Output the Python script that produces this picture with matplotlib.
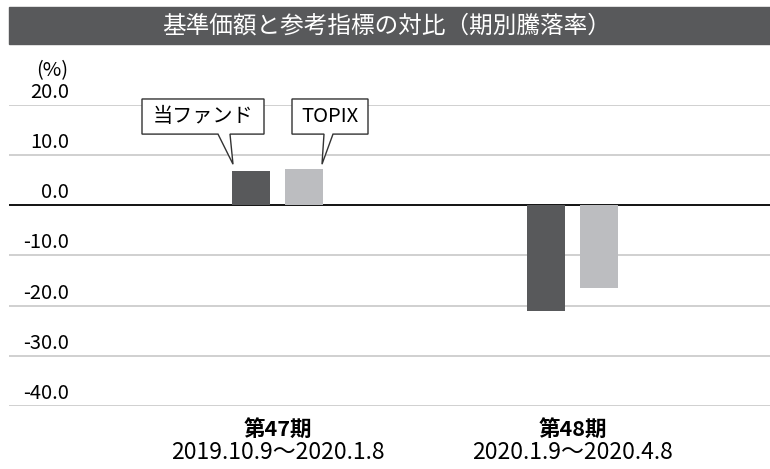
import matplotlib

matplotlib.use("Agg")

import matplotlib.pyplot as plt
from matplotlib.patches import Polygon, Rectangle
import numpy as np

plt.rcParams["font.family"] = ["Noto Sans CJK JP", "DejaVu Sans"]

DARK = "#58595b"
LIGHT = "#bcbdc0"
GRID = "#c8c8c8"

periods = ["第47期", "第48期"]
ranges = ["2019.10.9～2020.1.8", "2020.1.9～2020.4.8"]
fund = [6.8, -21.1]
topix = [7.2, -16.5]
yticks = [20, 10, 0, -10, -20, -30, -40]

W, H = 770, 469
fig = plt.figure(figsize=(W / 100, H / 100), dpi=100)

# title bar
fig.patches.append(Rectangle((9 / W, 1 - 44 / H), 1 - 9 / W, 37 / H,
                             transform=fig.transFigure, color=DARK, zorder=0))
fig.text(387 / W, 1 - 26 / H, "基準価額と参考指標の対比（期別騰落率）",
         ha="center", va="center", color="white", fontsize=17)

ax = fig.add_axes([9 / W, 1 - 406 / H, 1 - 9 / W, 301 / H])
ax.set_ylim(-40, 20)
unit = 295.0  # px per category
ax.set_xlim(-(277.5 - 9) / unit, 1 + (770 - 572.5) / unit)
for s in ax.spines.values():
    s.set_visible(False)
ax.set_xticks([])
ax.set_yticks([])

lab_x = (69 - 9) / 761
for v in yticks:
    ax.axhline(v, color="black" if v == 0 else GRID, lw=1.3 if v == 0 else 1.2, zorder=1)
    ax.text(lab_x, v + 2.5, f"{v:.1f}", transform=ax.get_yaxis_transform(),
            ha="right", va="center", fontsize=14.5)
ax.text((52 - 9) / 761, 26.9, "(%)", transform=ax.get_yaxis_transform(), ha="center",
        va="center", fontsize=14.5, clip_on=False)

x = np.arange(len(periods))
bw = 38 / unit
off = 26.5 / unit
ax.bar(x - off, fund, bw, color=DARK, zorder=2)
ax.bar(x + off, topix, bw, color=LIGHT, zorder=2)

# callouts (px offsets converted to data units)
px = 1 / unit


def callout(x0, x1, base0, base1, tip, label):
    top, bot, ty = 21.2, 14.2, 8.2
    pts = [(x0, top), (x1, top), (x1, bot), (base1, bot), (tip, ty), (base0, bot), (x0, bot)]
    ax.add_patch(Polygon(pts, closed=True, facecolor="white", edgecolor="#333333",
                         lw=1.0, zorder=3, clip_on=False))
    ax.text((x0 + x1) / 2, (top + bot) / 2, label, ha="center", va="center",
            fontsize=14.5, zorder=4)


fl = x[0] - off - bw / 2
callout(fl - 90 * px, fl + 32 * px, fl - 14 * px, fl - 2 * px, fl + 1 * px, "当ファンド")
tr = x[0] + off + bw / 2
callout(tr - 31 * px, tr + 45 * px, tr + 1 * px, tr + 10 * px, tr - 1 * px, "TOPIX")

for i in range(len(periods)):
    ax.text(x[i], -44.6, periods[i], ha="center", va="center", fontsize=15.5,
            fontweight="bold", clip_on=False)
    ax.text(x[i], -49.2, ranges[i], ha="center", va="center", fontsize=16.5, clip_on=False)

fig.savefig("out.png", dpi=100)
